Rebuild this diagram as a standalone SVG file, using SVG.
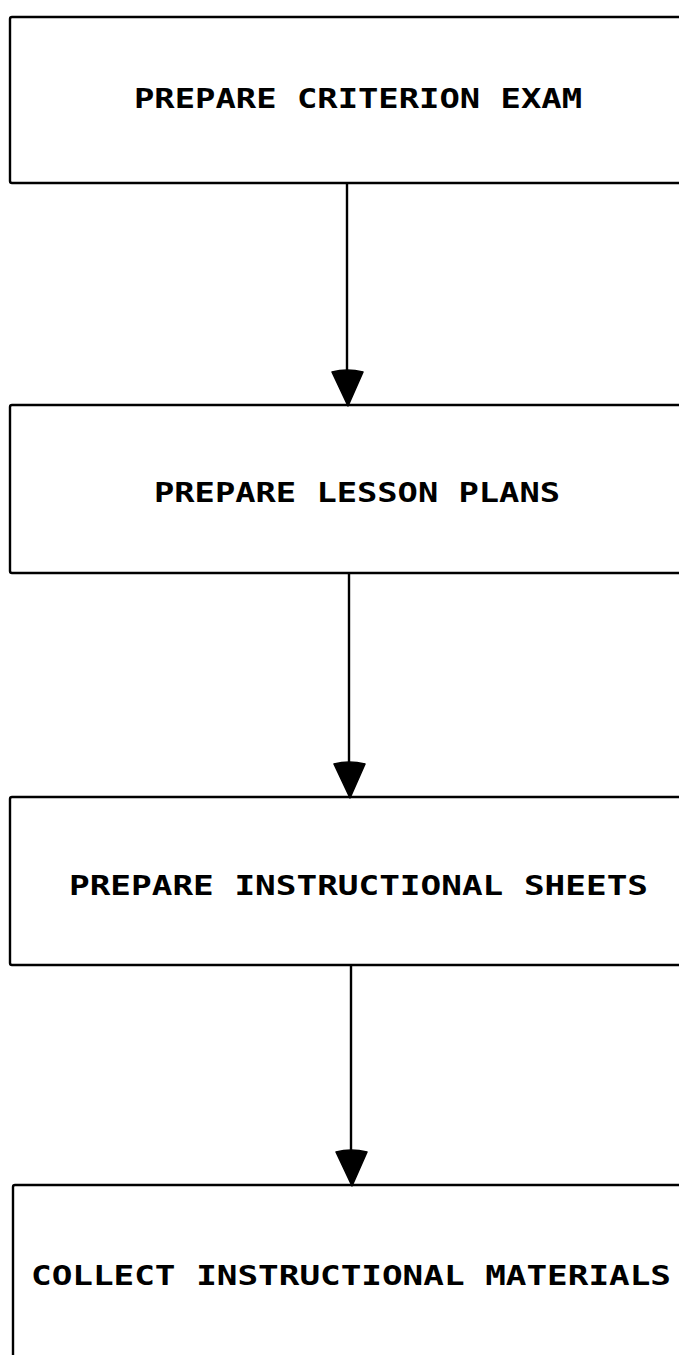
<svg xmlns="http://www.w3.org/2000/svg" width="679" height="1355" viewBox="0 0 679 1355">
<style>
.box{fill:#fff;stroke:#000;stroke-width:2.4}
.lbl{font-family:"DejaVu Sans Mono","Liberation Mono",monospace;font-size:27px;font-weight:bold;fill:#000}
.line{stroke:#000;stroke-width:2.4;fill:none}
.head{fill:#000;stroke:#000;stroke-width:1.5;stroke-linejoin:round}
</style>
<rect width="679" height="1355" fill="#fff"/>
<g id="node1">
<rect class="box" x="10" y="17" width="700" height="166" rx="2"/>
<text class="lbl" x="134" y="108" textLength="448" lengthAdjust="spacingAndGlyphs">PREPARE CRITERION EXAM</text>
</g>
<g id="node2">
<rect class="box" x="10" y="405" width="700" height="168" rx="2"/>
<text class="lbl" x="154" y="502" textLength="406" lengthAdjust="spacingAndGlyphs">PREPARE LESSON PLANS</text>
</g>
<g id="node3">
<rect class="box" x="10" y="797" width="700" height="168" rx="2"/>
<text class="lbl" x="69" y="895" textLength="579" lengthAdjust="spacingAndGlyphs">PREPARE INSTRUCTIONAL SHEETS</text>
</g>
<g id="node4">
<rect class="box" x="13" y="1185" width="700" height="200" rx="2"/>
<text class="lbl" x="31" y="1285" textLength="640" lengthAdjust="spacingAndGlyphs">COLLECT INSTRUCTIONAL MATERIALS</text>
</g>
<g id="connectors">
<line class="line" x1="347" y1="183" x2="347" y2="372"/>
<path class="head" d="M332,372 Q347,368 363,372 L348,406 Z"/>
<line class="line" x1="349" y1="573" x2="349" y2="764"/>
<path class="head" d="M334,764 Q349,760 365,764 L350,798 Z"/>
<line class="line" x1="351" y1="965" x2="351" y2="1152"/>
<path class="head" d="M336,1152 Q351,1148 367,1152 L352,1186 Z"/>
</g>
</svg>
